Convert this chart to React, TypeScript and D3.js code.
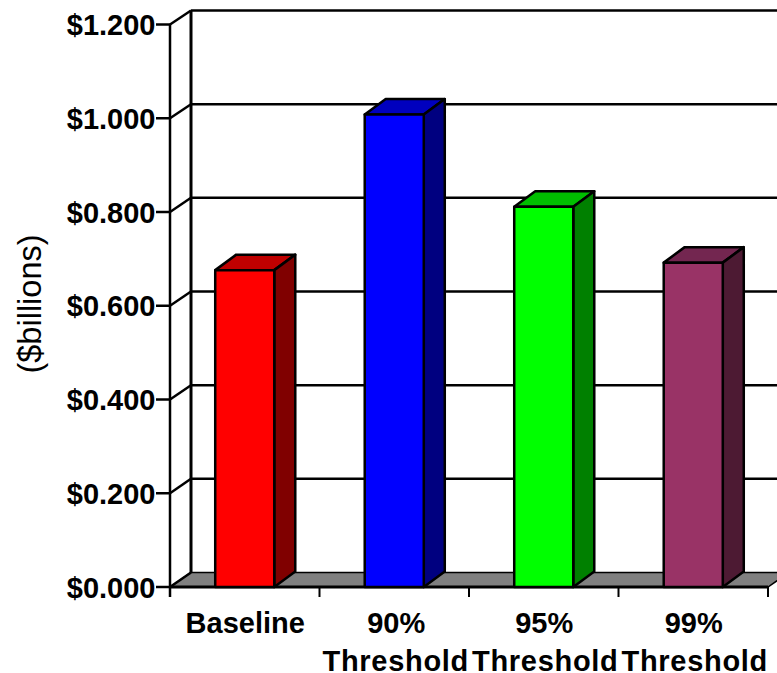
import React from "react";
import * as d3 from "d3";

const categories = ["Baseline", "90%", "95%", "99%"];
const secondLine = ["", "Threshold", "Threshold", "Threshold"];
const values = [0.676, 1.008, 0.811, 0.692];
const yTicks = [0, 0.2, 0.4, 0.6, 0.8, 1.0, 1.2];
const frontColors = ["#ff0000", "#0000ff", "#00ff00", "#993366"];
const topColors = ["#bf0000", "#0000bf", "#00bf00", "#732650"];
const sideColors = ["#800000", "#000080", "#008000", "#4d1a33"];

const W = 777;
const H = 673;
const left = 170;
const right = 768;
const floorY = 587;
const topY = 24.5;
const depthX = 21;
const barDepthY = -15.5;
const font = "'Liberation Sans', Arial, sans-serif";

// Front plane of the plot box and the slightly offset back wall.
const y = d3.scaleLinear().domain([0, 1.2]).range([floorY, topY]);
const yBack = d3.scaleLinear().domain([0, 1.2]).range([572.5, 10.5]);
const x = d3.scaleBand<string>().domain(categories).range([left, right]).paddingInner(0).paddingOuter(0);

const poly = (pts: [number, number][]) => pts.map((p) => p.join(",")).join(" ");

export default function App() {
  const bw = x.bandwidth() * 0.395;
  const edges = categories.map((_, i) => left + i * x.step());
  edges.push(right);
  return (
    <svg
      width={W}
      height={H}
      viewBox={`0 0 ${W} ${H}`}
      style={{ position: "absolute", left: 0, top: 0, background: "#fff" }}
      fontFamily={font}
    >
      {/* floor of the 3D plot box */}
      <polygon
        points={poly([
          [left, floorY],
          [left + depthX, yBack(0)],
          [right + depthX, yBack(0)],
          [right, floorY],
        ])}
        fill="#808080"
        stroke="#000"
        strokeWidth={1.5}
      />
      {/* back wall gridlines, side wall diagonals, axis ticks */}
      {yTicks.map((t) => (
        <g key={t} stroke="#000">
          {t > 0 && <line x1={left + depthX} x2={W} y1={yBack(t)} y2={yBack(t)} strokeWidth={2.5} />}
          <line x1={left} x2={left + depthX} y1={y(t)} y2={yBack(t)} strokeWidth={2.5} />
          <line x1={left - 14} x2={left} y1={y(t)} y2={y(t)} strokeWidth={2.5} />
        </g>
      ))}
      <line x1={left + depthX} x2={left + depthX} y1={yBack(1.2)} y2={yBack(0)} stroke="#000" strokeWidth={3} />
      <line x1={left} x2={left} y1={topY} y2={floorY + 10} stroke="#000" strokeWidth={2.5} />
      <line x1={left} x2={right} y1={floorY} y2={floorY} stroke="#000" strokeWidth={3} />
      {edges.slice(1).map((e) => (
        <line key={e} x1={e} x2={e} y1={floorY} y2={floorY + 10} stroke="#000" strokeWidth={2} />
      ))}

      {/* extruded bars */}
      {categories.map((c, i) => {
        const x0 = x(c)! + (x.bandwidth() - bw) / 2;
        const x1 = x0 + bw;
        const yt = y(values[i]);
        const stroke = { stroke: "#000", strokeWidth: 2.5, strokeLinejoin: "round" as const };
        return (
          <g key={c}>
            <polygon
              points={poly([
                [x0, yt],
                [x0 + depthX, yt + barDepthY],
                [x1 + depthX, yt + barDepthY],
                [x1, yt],
              ])}
              fill={topColors[i]}
              {...stroke}
            />
            <polygon
              points={poly([
                [x1, yt],
                [x1 + depthX, yt + barDepthY],
                [x1 + depthX, floorY + barDepthY],
                [x1, floorY],
              ])}
              fill={sideColors[i]}
              {...stroke}
            />
            <rect x={x0} y={yt} width={bw} height={floorY - yt} fill={frontColors[i]} {...stroke} />
          </g>
        );
      })}

      {/* value axis labels */}
      {yTicks.map((t) => (
        <text
          key={t}
          x={155.5}
          y={y(t) + 10.5}
          textAnchor="end"
          fontSize={29}
          fontWeight="bold"
          fill="#000"
        >
          {"$" + t.toFixed(3)}
        </text>
      ))}
      <text transform="translate(41,304) rotate(-90)" textAnchor="middle" fontSize={32.5} fill="#000">
        ($billions)
      </text>

      {/* category labels */}
      {categories.map((c, i) => {
        const cx = x(c)! + x.bandwidth() / 2;
        return (
          <g key={c} textAnchor="middle" fontSize={29} fontWeight="bold" fill="#000">
            <text x={cx + (i === 1 ? 2 : 0.5)} y={633}>{c}</text>
            {secondLine[i] && (
              <text x={cx + 1.5} y={670.5} letterSpacing={0.7}>
                {secondLine[i]}
              </text>
            )}
          </g>
        );
      })}
    </svg>
  );
}
